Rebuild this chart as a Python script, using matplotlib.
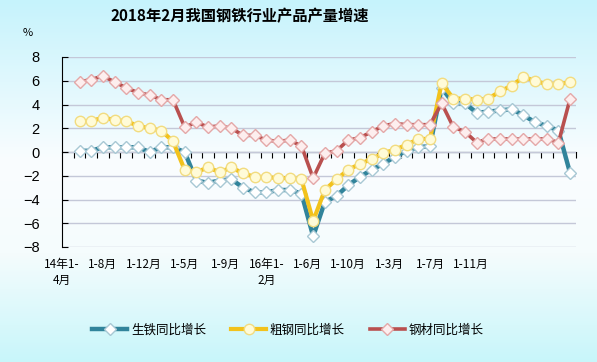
import matplotlib.pyplot as plt
import numpy as np

plt.rcParams['font.family'] = ['Noto Sans CJK SC', 'DejaVu Sans']

# 2014年1-4月 ... 2018年1-2月 累计同比增速 (%)
pig_iron = [0.1, 0.1, 0.4, 0.4, 0.4, 0.4, 0.0, 0.4, 0.4, 0.0,
            -2.4, -2.6, -2.4, -2.3, -3.0, -3.4, -3.4, -3.2, -3.2, -3.5,
            -7.1, -4.2, -3.7, -2.8, -2.1, -1.5, -1.0, -0.4, 0.1, 0.4,
            0.5, 5.4, 4.1, 4.1, 3.3, 3.4, 3.5, 3.6, 3.1, 2.5,
            2.2, 1.8, -1.8]
crude_steel = [2.6, 2.6, 2.9, 2.7, 2.6, 2.2, 2.0, 1.8, 0.9, -1.5,
               -1.7, -1.3, -1.7, -1.3, -1.8, -2.1, -2.1, -2.2, -2.2, -2.3,
               -5.8, -3.2, -2.3, -1.5, -1.0, -0.6, -0.1, 0.2, 0.6, 1.1,
               1.1, 5.8, 4.5, 4.5, 4.4, 4.5, 5.1, 5.6, 6.3, 6.0,
               5.7, 5.7, 5.9]
steel_products = [5.9, 6.1, 6.4, 5.9, 5.4, 5.0, 4.8, 4.4, 4.4, 2.1,
                  2.5, 2.1, 2.2, 2.0, 1.4, 1.4, 1.0, 0.9, 1.0, 0.5,
                  -2.2, -0.1, 0.1, 1.0, 1.2, 1.7, 2.2, 2.4, 2.3, 2.3,
                  2.3, 4.1, 2.1, 1.7, 0.8, 1.1, 1.1, 1.1, 1.1, 1.1,
                  1.1, 0.8, 4.5]
tick_labels = ['14年1-\n4月', '1-8月', '1-12月', '1-5月', '1-9月', '16年1-\n2月',
               '1-6月', '1-10月', '1-3月', '1-7月', '1-11月']

x = np.arange(len(pig_iron))

fig = plt.figure(figsize=(5.97, 3.62), dpi=100)

# background gradient (cyan - white - cyan)
bg = fig.add_axes([0, 0, 1, 1], zorder=-10)
stops_y = [0.0, 0.45, 0.7, 1.0]
stops_c = np.array([[198, 243, 252], [250, 253, 255], [245, 252, 253], [200, 246, 250]]) / 255
yy = np.linspace(0, 1, 362)
grad = np.stack([np.interp(yy, stops_y, stops_c[:, k]) for k in range(3)], axis=1)
bg.imshow(grad[:, None, :], aspect='auto', extent=[0, 1, 0, 1])
bg.axis('off')

ax = fig.add_axes([62 / 597, 1 - 247 / 362, 514 / 597, 190 / 362])
ax.patch.set_alpha(0)

ax.plot(x, pig_iron, color='#31849b', lw=3.2, marker='D', ms=6.5,
        mfc='white', mec='#a8c8d4', mew=1, label='生铁同比增长', zorder=3)
ax.plot(x, crude_steel, color='#f2c21c', lw=3, marker='o', ms=7.5,
        mfc='#fffbd8', mec='#f2dc80', mew=1, label='粗钢同比增长', zorder=4)
ax.plot(x, steel_products, color='#b9504f', lw=2.6, marker='D', ms=6.5,
        mfc='#fdeeee', mec='#e4a8a8', mew=1, label='钢材同比增长', zorder=5)

ax.set_xlim(-0.5, len(x) - 0.5)
ax.set_ylim(-8, 8)
ax.set_yticks(range(-8, 9, 2))
ax.yaxis.grid(True, color='#c4c8d8', lw=1)
ax.set_axisbelow(True)
for s in ['top', 'right', 'bottom']:
    ax.spines[s].set_visible(False)
ax.spines['left'].set_color('black')
ax.tick_params(axis='y', direction='in', length=4, pad=16, labelsize=10.5)
for t in ax.get_yticklabels():
    t.set_family(['Liberation Sans', 'DejaVu Sans'])

ax.set_xticks(np.arange(len(tick_labels)) * 3.5 - 1.5)
ax.set_xticklabels(tick_labels, fontsize=8.5, linespacing=1.3)
ax.tick_params(axis='x', length=0, pad=8)

# axis line at zero with category ticks
zero_axis = ax.secondary_xaxis(0.5)
zero_axis.spines['bottom'].set_color('black')
bounds = np.arange(len(x) + 1) - 0.5
zero_axis.set_xticks(bounds, labels=[''] * len(bounds))
zero_axis.tick_params(direction='in', length=4, color='black')

fig.text(240 / 597, 1 - 16 / 362, '2018年2月我国钢铁行业产品产量增速',
         ha='center', va='center', fontsize=11, fontweight='bold')
fig.text(28 / 597, 1 - 33 / 362, '%', ha='center', va='center', fontsize=8)

fig.legend(loc='center', bbox_to_anchor=(288 / 597, 1 - 330 / 362), ncol=3,
           frameon=False, fontsize=9, handlelength=2.8, columnspacing=2.0,
           handletextpad=0.3)

fig.savefig('out.png', dpi=100)
